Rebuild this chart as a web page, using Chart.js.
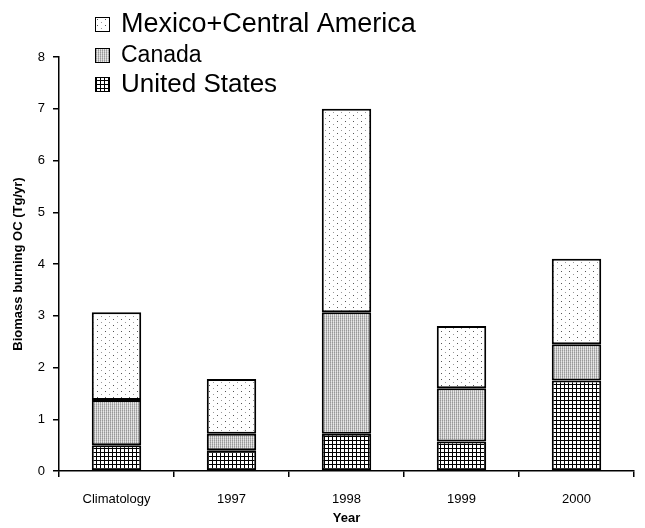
<!DOCTYPE html>
<html>
<head>
<meta charset="utf-8">
<script src="https://cdn.jsdelivr.net/npm/chart.js@4"></script>
<style>
  body { margin: 0; background: #fff; }
  #wrap { width: 645px; height: 528px; }
</style>
</head>
<body>
<div id="wrap"><canvas id="biomassChart" width="645" height="528"></canvas></div>
<script>
// categories and stacked values (Tg/yr)
const categories = ['Climatology', '1997', '1998', '1999', '2000'];
const unitedStates = [0.50, 0.40, 0.72, 0.57, 1.75];
const canada = [0.87, 0.32, 2.35, 1.03, 0.70];
const mexicoCentralAmerica = [1.70, 1.06, 3.93, 1.20, 1.65];
const yTicks = [0, 1, 2, 3, 4, 5, 6, 7, 8];

const font = '"Liberation Sans", Arial, sans-serif';

// small tiles used as fill patterns
function makePattern(w, h, draw) {
    const tile = document.createElement('canvas');
    tile.width = w;
    tile.height = h;
    const c = tile.getContext('2d');
    c.fillStyle = '#fff';
    c.fillRect(0, 0, w, h);
    draw(c);
    return document.getElementById('biomassChart').getContext('2d').createPattern(tile, 'repeat');
}

const usPattern = makePattern(4, 4, c => {
    c.fillStyle = '#000';
    c.fillRect(0, 0, 4, 1);
    c.fillRect(0, 0, 1, 4);
});
const canadaPattern = makePattern(2, 2, c => {
    c.fillStyle = '#999'; c.fillRect(0, 0, 1, 1);
    c.fillStyle = '#d8d8d8'; c.fillRect(1, 0, 1, 1);
    c.fillStyle = '#b0b0b0'; c.fillRect(0, 1, 1, 1);
    c.fillStyle = '#e8e8e8'; c.fillRect(1, 1, 1, 1);
});
const mexicoPattern = makePattern(8, 6, c => {
    c.fillStyle = '#555';
    c.fillRect(1, 1, 1, 1);
    c.fillStyle = '#999';
    c.fillRect(5, 4, 1, 1);
});

// legend drawn by hand because each entry has its own font size
const legendSizes = { 'Mexico+Central America': 27, 'Canada': 23, 'United States': 26 };
const legendRows = [24, 55, 84];

const customLegend = {
    id: 'customLegend',
    afterDraw(chart) {
        const ctx = chart.ctx;
        const order = [2, 1, 0];
        ctx.save();
        order.forEach((dsIndex, row) => {
            const ds = chart.data.datasets[dsIndex];
            const y = legendRows[row];
            ctx.fillStyle = ds.backgroundColor;
            ctx.fillRect(95, y - 7, 15, 15);
            ctx.strokeStyle = '#000';
            ctx.lineWidth = 1;
            ctx.strokeRect(95.5, y - 6.5, 14, 14);
            ctx.fillStyle = '#000';
            ctx.font = legendSizes[ds.label] + 'px ' + font;
            ctx.textBaseline = 'middle';
            ctx.fillText(ds.label, 121, y + 1);
        });
        ctx.restore();
    }
};

const ctx = document.getElementById('biomassChart').getContext('2d');
new Chart(ctx, {
    type: 'bar',
    data: {
        labels: categories,
        datasets: [
            { label: 'United States', data: unitedStates, backgroundColor: usPattern },
            { label: 'Canada', data: canada, backgroundColor: canadaPattern },
            { label: 'Mexico+Central America', data: mexicoCentralAmerica, backgroundColor: mexicoPattern }
        ].map(ds => Object.assign(ds, {
            borderColor: '#000',
            borderWidth: 2,
            borderSkipped: false,
            barPercentage: 0.43,
            categoryPercentage: 1
        }))
    },
    options: {
        responsive: false,
        animation: false,
        layout: { padding: { top: 57, right: 11, left: 0, bottom: 0 } },
        plugins: {
            legend: { display: false },
            tooltip: { enabled: false }
        },
        scales: {
            x: {
                stacked: true,
                grid: { drawOnChartArea: false, offset: true, tickLength: 6, color: '#000', lineWidth: 1.5 },
                border: { color: '#000', width: 1.5 },
                ticks: { color: '#000', font: { family: font, size: 13 }, padding: 15, maxRotation: 0 },
                title: { display: true, text: 'Year', color: '#000', font: { family: font, size: 13, weight: 'bold' }, padding: { top: 0, bottom: 2 } },
                afterFit(scale) { scale.height = 57; }
            },
            y: {
                stacked: true,
                min: 0,
                max: 8,
                afterBuildTicks(scale) { scale.ticks = yTicks.map(v => ({ value: v })); },
                grid: { drawOnChartArea: false, tickLength: 6, color: '#000', lineWidth: 1.5 },
                border: { color: '#000', width: 1.5 },
                ticks: { color: '#000', font: { family: font, size: 13 }, padding: 8 },
                title: { display: true, text: 'Biomass burning OC (Tg/yr)', color: '#000', font: { family: font, size: 13, weight: 'bold' }, padding: { top: 11, bottom: 0 } },
                afterFit(scale) { scale.width = 59; }
            }
        }
    },
    plugins: [customLegend]
});
</script>
</body>
</html>
